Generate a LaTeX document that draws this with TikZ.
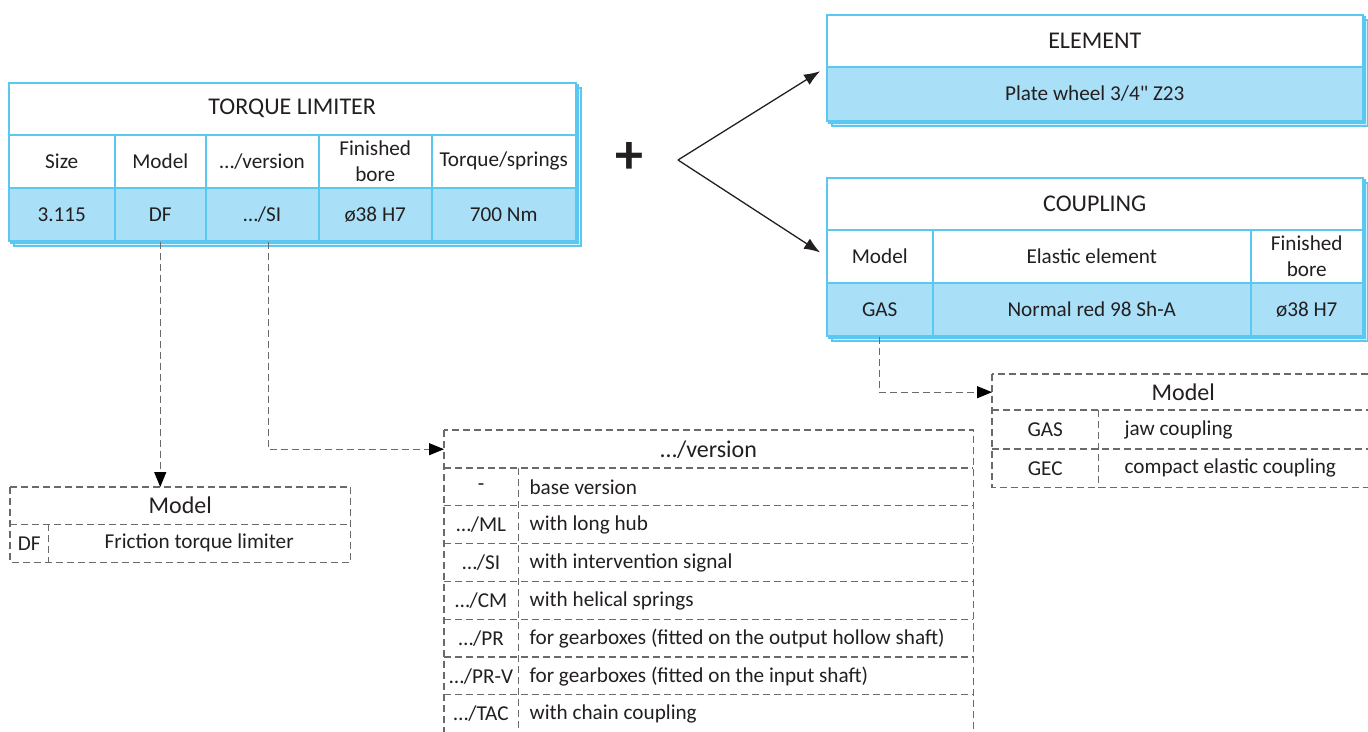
\documentclass[tikz,border=0pt]{standalone}
\usepackage{fontspec}
\setmainfont{Carlito}
\usetikzlibrary{arrows.meta,positioning}

\definecolor{rimblue}{HTML}{5AC8F0}
\definecolor{cellblue}{HTML}{A9E0F8}
\definecolor{dashgray}{HTML}{6A6A6A}
\definecolor{inkgray}{HTML}{231F20}

\newcommand{\bodyfont}{\fontsize{21.2}{26}\selectfont}
\newcommand{\headfont}{\fontsize{24}{28}\selectfont}

\tikzset{
  rim/.style={draw=rimblue, line width=1.5pt},
  cell/.style={rim, fill=white, inner sep=0pt, anchor=north west, align=center, text=inkgray, font=\bodyfont},
  valcell/.style={cell, fill=cellblue},
  headcell/.style={cell, font=\headfont},
  dcell/.style={inner sep=0pt, anchor=north west, align=center, text=inkgray, font=\bodyfont},
  dashline/.style={draw=dashgray, dash pattern=on 7pt off 4pt, line width=1.2pt},
  dasharrow/.style={dashline, -{Triangle[length=15pt,width=12pt,color=black]}},
  forkarrow/.style={draw=inkgray, line width=1.3pt, -{Latex[length=16pt,width=12pt]}, shorten >=7pt}
}

\begin{document}
\begin{tikzpicture}[x=1pt,y=-1pt]
    \useasboundingbox (0,0) rectangle (1368,731);

    % Torque limiter
    \foreach \s in {6,3}
        \draw[rim, fill=cellblue!45] (8+\s,82+\s) rectangle (575+\s,240+\s);
    \node[headcell, minimum width=567pt, minimum height=52pt] (tlTitle) at (8,82) {TORQUE LIMITER};
    \foreach \x/\w/\n/\h/\v in {8/106/Size/Size/3.115, 114/91/Mod/Model/DF, 205/113/Ver/{…/version}/{…/SI},
                                318/113/Bore/{Finished\\bore}/{ø38 H7}, 431/144/Torq/{Torque/springs}/{700 Nm}} {
        \node[cell, minimum width=\w pt, minimum height=53pt] (th\n) at (\x,134) {\h};
        \node[valcell, minimum width=\w pt, minimum height=53pt] (tv\n) at (\x,187) {\v};
    }

    % Element
    \foreach \s in {6,3}
        \draw[rim, fill=cellblue!45] (826+\s,14+\s) rectangle (1362+\s,120+\s);
    \node[headcell, minimum width=536pt, minimum height=52pt] (elTitle) at (826,14) {ELEMENT};
    \node[valcell, minimum width=536pt, minimum height=54pt] (elVal) at (826,66) {Plate wheel 3/4\textquotedbl{} Z23};

    % Coupling
    \foreach \s in {6,3}
        \draw[rim, fill=cellblue!45] (826+\s,177+\s) rectangle (1362+\s,335+\s);
    \node[headcell, minimum width=536pt, minimum height=52pt] (cpTitle) at (826,177) {COUPLING};
    \foreach \x/\w/\n/\h/\v in {826/106/Mod/Model/GAS, 932/318/Elast/{Elastic element}/{Normal red 98 Sh-A},
                                1250/112/Bore/{Finished\\bore}/{ø38 H7}} {
        \node[cell, minimum width=\w pt, minimum height=53pt] (ch\n) at (\x,229) {\h};
        \node[valcell, minimum width=\w pt, minimum height=53pt] (cv\n) at (\x,282) {\v};
    }

    % Plus and fork
    \node[inner sep=0pt, text=inkgray, font=\bfseries\fontsize{56}{56}\selectfont] (plus) at (629,158) {+};
    \coordinate (fork) at (678,160);
    \draw[forkarrow] (fork) -- (elTitle.south west);
    \draw[forkarrow] (fork) -- (chMod.west);

    % Model of the torque limiter
    \node[dcell, minimum width=340pt, minimum height=37pt, font=\headfont] (lmTitle) at (10,487) {Model};
    \node[dcell, minimum width=38pt, minimum height=38pt] (lmCode) at (10,524) {DF};
    \node[dcell, minimum width=302pt, minimum height=38pt] (lmText) at (48,524) {Friction torque limiter};
    \draw[dashline] (lmTitle.north west) rectangle (lmText.south east);
    \draw[dashline] (lmTitle.south west) -- (lmTitle.south east);
    \draw[dashline] (lmCode.north east) -- (lmCode.south east);

    % Versions
    \node[dcell, minimum width=529pt, minimum height=38pt, font=\headfont] (verTitle) at (444,430) {…/version};
    \foreach \i/\c/\t in {1/-/base version, 2/{…/ML}/with long hub, 3/{…/SI}/with intervention signal,
                          4/{…/CM}/with helical springs, 5/{…/PR}/for gearboxes (fitted on the output hollow shaft),
                          6/{…/PR-V}/for gearboxes (fitted on the input shaft), 7/{…/TAC}/with chain coupling} {
        \node[dcell, minimum width=74pt, minimum height=37.8pt] (vc\i) at (444,{468+(\i-1)*37.8}) {\c};
        \node[dcell, anchor=west, right=11pt of vc\i.east] (vt\i) {\t};
        \draw[dashline] (vc\i.north west) -- (vc\i.north west -| verTitle.east);
    }
    \draw[dashline] (verTitle.north west) rectangle (vc7.south west -| verTitle.east);
    \draw[dashline] (vc1.north east) -- (vc7.south east);

    % Model of the coupling
    \node[dcell, minimum width=382pt, minimum height=36pt, font=\headfont] (rmTitle) at (992,374) {Model};
    \node[dcell, minimum width=106pt, minimum height=39pt] (rmGas) at (992,410) {GAS};
    \node[dcell, minimum width=106pt, minimum height=38pt] (rmGec) at (992,449) {GEC};
    \node[dcell, anchor=west, right=26pt of rmGas.east] (rmJaw) {jaw coupling};
    \node[dcell, anchor=west, right=26pt of rmGec.east] (rmComp) {compact elastic coupling};
    \draw[dashline] (rmTitle.north west) rectangle (rmGec.south west -| rmTitle.east);
    \draw[dashline] (rmGas.north west) -- (rmGas.north west -| rmTitle.east);
    \draw[dashline] (rmGec.north west) -- (rmGec.north west -| rmTitle.east);
    \draw[dashline] (rmGas.north east) -- (rmGec.south east);

    % Dashed links
    \draw[dasharrow] (tvMod.south) -- (tvMod.south |- lmTitle.north);
    \draw[dasharrow] ([xshift=6pt]tvVer.south) |- (verTitle.west);
    \draw[dasharrow] (cvMod.south) |- (rmTitle.west);
\end{tikzpicture}
\end{document}
